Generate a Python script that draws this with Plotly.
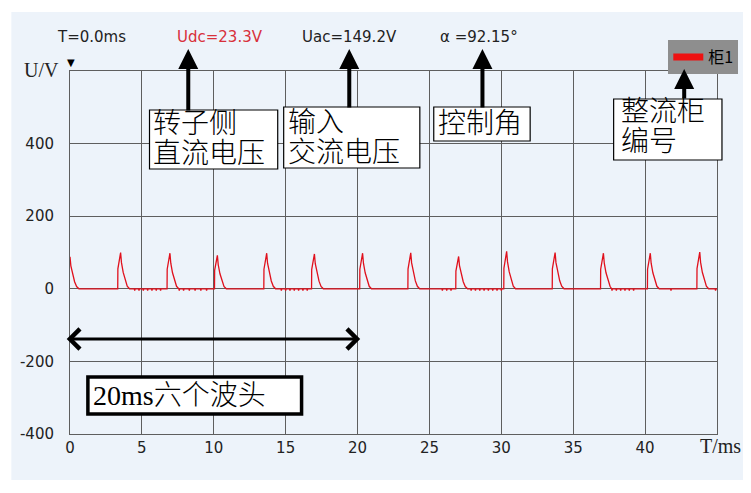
import plotly.graph_objects as go

# ---------------- data ----------------
spike_onset_ms = [-0.20, 3.32, 6.75, 10.05, 13.48, 16.80, 20.15, 23.50, 26.83, 30.17, 33.54, 36.90, 40.16, 43.60]
spike_peak_v = [88, 100, 98, 92, 98, 96, 98, 99, 89, 103, 100, 98, 98, 101]
# shape of one commutation spike: time after onset (ms) and fraction of the peak
spike_shape_dt = [0.00, 0.01, 0.20, 0.26, 0.38, 0.52, 0.66, 0.82]
spike_shape_k = [0.0, 0.55, 1.0, 0.72, 0.45, 0.22, 0.07, 0.0]
# small dips of the trace just below zero
ripple_t_ms = [4.5, 4.8, 5.1, 5.4, 5.7, 6.0, 6.3, 7.6, 7.9, 8.3, 8.7, 9.1, 9.5,
               14.7, 15.0, 15.3, 15.6, 15.9, 16.2, 16.5, 25.9, 26.2, 26.5,
               27.9, 28.2, 28.5, 28.8, 29.1, 29.4, 29.7, 30.0,
               37.7, 38.0, 38.3, 38.6, 38.9, 39.2, 41.8, 44.9]
ripple_v = [-5] * len(ripple_t_ms)

x_tick_vals = [0, 5, 10, 15, 20, 25, 30, 35, 40]
x_tick_text = ["0", "5", "10", "15", "20", "25", "30", "35", "40"]
y_tick_vals = [-400, -200, 0, 200, 400]
y_tick_text = ["-400", "-200", "0", "200", "400"]
x_range = [0, 45]
y_range = [-400, 600]

series_name = "柜1"
readouts = ["T=0.0ms", "Udc=23.3V", "Uac=149.2V", "α =92.15°"]

# ---------------- build the trace ----------------
pts = [(-0.5, 0.0), (45.0, 0.0)]
for t0, pk in zip(spike_onset_ms, spike_peak_v):
    for dt, k in zip(spike_shape_dt, spike_shape_k):
        pts.append((t0 + dt, pk * k))
for t, v in zip(ripple_t_ms, ripple_v):
    pts += [(t - 0.03, 0.0), (t, v), (t + 0.03, 0.0)]
pts.sort(key=lambda p: p[0])
xs = [p[0] for p in pts]
ys = [p[1] for p in pts]

# ---------------- layout helpers (screen pixel -> paper) ----------------
OFF = 8                      # page body margin
W, H = 751 - OFF, 493 - OFF  # figure size
L, T, PW, PH = 66, 71, 651, 363   # plot area in screen pixels
def px(x):
    return (x - L) / PW
def py(y):
    return (T + PH - y) / PH

BG = "#edf3fa"
GRID = "#5e5e5e"
RED = "#e0101c"

fig = go.Figure()
fig.add_trace(go.Scatter(x=xs, y=ys, mode="lines", line=dict(color=RED, width=1.3),
                         showlegend=False, hoverinfo="skip"))
fig.add_trace(go.Scatter(x=[None], y=[None], mode="lines", name=series_name,
                         line=dict(color="#ee1111", width=7), showlegend=True))

shapes = []
# light blue panel
shapes.append(dict(type="rect", xref="paper", yref="paper", x0=px(7), x1=px(760), y0=py(480), y1=py(12),
                   fillcolor=BG, line=dict(width=0), layer="below"))
# annotation boxes
def box(x0, y0, x1, y1, lw=1.2):
    shapes.append(dict(type="rect", xref="paper", yref="paper", x0=px(x0), x1=px(x1), y0=py(y1), y1=py(y0),
                       fillcolor="white", line=dict(color="black", width=lw), layer="above"))
box(146, 110, 275, 169)
box(281, 107, 418, 168)
box(432, 107, 529, 141)
box(613, 99, 722, 160)
box(84, 377, 299, 414, lw=3.5)

ann = []
top_font = dict(family="DejaVu Sans", size=15, color="#222222")
ann.append(dict(x=px(88), y=py(37), text=readouts[0], font=top_font))
ann.append(dict(x=px(217), y=py(37), text=readouts[1], font=dict(family="DejaVu Sans", size=15, color="#d8303a")))
ann.append(dict(x=px(347), y=py(37), text=readouts[2], font=top_font))
ann.append(dict(x=px(478), y=py(37), text=readouts[3], font=top_font))

serif = dict(family="Liberation Serif", size=20, color="#222222")
ann.append(dict(x=px(37), y=py(70), text="U/V", font=serif))
ann.append(dict(x=px(721), y=py(446), text="T/ms", font=serif))
ann.append(dict(x=px(67), y=py(62), text="▼", font=dict(family="DejaVu Sans", size=10, color="black")))

cjk = dict(family="Liberation Serif, Noto Sans CJK SC", size=28, color="black", weight=300)
def label(x, y, text, size=28):
    f = dict(cjk)
    f["size"] = size
    ann.append(dict(x=px(x), y=py(y), text=text, font=f, xanchor="left"))
label(147, 123, "转子侧")
label(147, 153, "直流电压")
label(283, 122, "输入")
label(283, 152, "交流电压")
label(434, 123, "控制角")
label(618, 111, "整流柜")
label(618, 141, "编号")
label(87, 395, "20ms六个波头")

for a in ann:
    a.setdefault("xref", "paper")
    a.setdefault("yref", "paper")
    a.setdefault("showarrow", False)
    a.setdefault("yanchor", "middle")
    a.setdefault("xanchor", "center")

# arrows
def up_arrow(x, tip, tail):
    ann.append(dict(xref="paper", yref="paper", x=px(x), y=py(tip), ax=0, ay=tail - tip, text="",
                    showarrow=True, arrowhead=2, arrowsize=1, arrowwidth=4, arrowcolor="black", standoff=0))
up_arrow(185, 49, 112)
up_arrow(347, 49, 109)
up_arrow(481, 49, 109)
up_arrow(684, 69, 100)
ann.append(dict(xref="paper", yref="paper", x=px(358), y=py(339), ax=63 - 358, ay=0, text="",
                showarrow=True, arrowhead=4, startarrowhead=4, arrowside="end+start", arrowsize=1.3,
                arrowwidth=3, arrowcolor="black", standoff=0, startstandoff=0))

fig.update_layout(
    width=W, height=H, autosize=False,
    margin=dict(l=L - OFF, r=W - (L - OFF) - PW, t=T - OFF, b=H - (T - OFF) - PH, pad=0),
    paper_bgcolor="white", plot_bgcolor=BG,
    shapes=shapes, annotations=ann,
    legend=dict(x=px(668), y=py(40), xanchor="left", yanchor="top", bgcolor="#8e8e8e",
                borderwidth=0, font=dict(family="Noto Sans CJK SC", size=16, color="black"),
                itemwidth=30, tracegroupgap=0),
    xaxis=dict(range=x_range, tickvals=x_tick_vals, ticktext=x_tick_text, showgrid=True,
               gridcolor=GRID, gridwidth=1, zeroline=False, showline=True, mirror=True,
               linecolor=GRID, linewidth=1, ticks="", ticklabelstandoff=0,
               tickfont=dict(family="DejaVu Sans", size=15, color="#222222")),
    yaxis=dict(range=y_range, tickvals=y_tick_vals, ticktext=y_tick_text, showgrid=True,
               gridcolor=GRID, gridwidth=1, zeroline=False, showline=True, mirror=True,
               linecolor=GRID, linewidth=1, ticks="", ticklabelstandoff=12,
               tickfont=dict(family="DejaVu Sans", size=15, color="#222222")),
)

fig.write_html("out.html")
